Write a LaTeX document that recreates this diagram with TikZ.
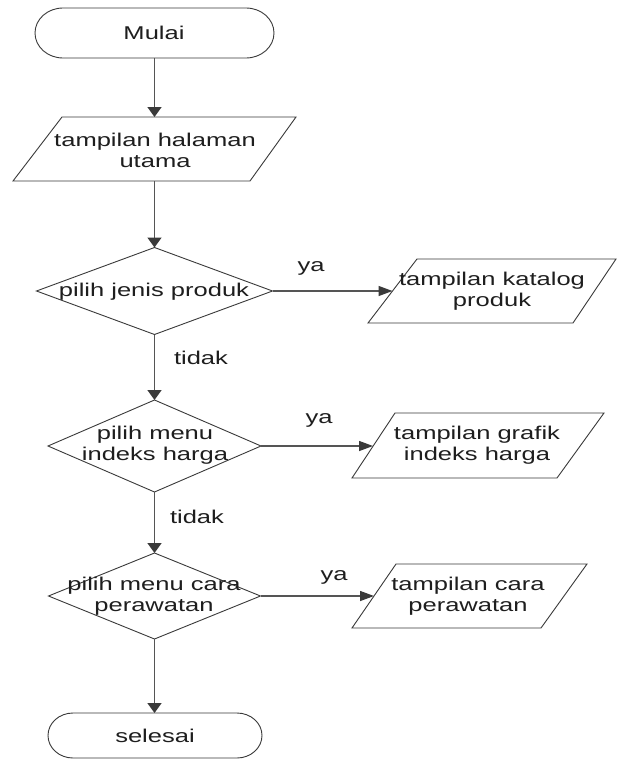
\documentclass[tikz,border=0pt]{standalone}
\usepackage{fontspec}
\setmainfont[FakeStretch=1.38]{Liberation Sans}
\usetikzlibrary{shapes.geometric,arrows.meta}
\definecolor{linec}{HTML}{555555}
\definecolor{edgec}{HTML}{3A3A3A}
\definecolor{txtc}{HTML}{1E1E1E}
\begin{document}
\begin{tikzpicture}[x=1pt,y=-1pt,
  txt/.style={font=\fontsize{18.5}{21}\selectfont, text=txtc, align=center, inner sep=0pt},
  shp/.style={draw=edgec, line width=0.9pt},
  decision/.style={shape=diamond, draw=edgec, line width=0.9pt, inner sep=0pt, outer sep=0pt},
  vflow/.style={draw=linec, line width=1.5pt, -{Triangle[length=10pt,width=14pt,color=edgec]}},
  hflow/.style={draw=linec, line width=1.3pt, -{Triangle[length=14pt,width=10pt,color=edgec]}},
  plainline/.style={draw=linec, line width=1.5pt}
]
\fill[white] (0,0) rectangle (617,760);
\useasboundingbox (0,0) rectangle (617,760);

% terminal Mulai
\draw[shp] (63,8) -- (246,8) arc[start angle=90,end angle=-90,x radius=28pt,y radius=25pt]
  -- (63,58) arc[start angle=270,end angle=90,x radius=28pt,y radius=25pt] -- cycle;
\node[txt] (mulai) at (154,33) {Mulai};
\coordinate (mulaiB) at (154.5,58);

% parallelogram 1
\draw[shp] (62,117) -- (296,117) -- (250,181) -- (13,181) -- cycle;
\node[txt] (p1) at (155,150) {tampilan halaman\\utama};
\coordinate (p1T) at (154.5,117);
\coordinate (p1B) at (154.5,181);

% decision 1
\node[decision, minimum width=236pt, minimum height=87pt] (d1) at (154.5,291) {};
\node[txt] (d1t) at (154,292) {pilih jenis produk};

% katalog
\draw[shp] (417,259) -- (616,259) -- (573,323) -- (368,323) -- cycle;
\node[txt] (kat) at (492,291) {tampilan katalog\\produk};
\coordinate (katIn) at (392.5,291);

% decision 2
\node[decision, minimum width=213pt, minimum height=92pt] (d2) at (154.5,446) {};
\node[txt] (d2t) at (155,445) {pilih menu\\indeks harga};

% grafik
\draw[shp] (395,413) -- (604,413) -- (557,478) -- (352,478) -- cycle;
\node[txt] (graf) at (477,445) {tampilan grafik\\indeks harga};
\coordinate (grafIn) at (373,446);

% decision 3
\node[decision, minimum width=212pt, minimum height=86pt] (d3) at (154.5,596) {};
\node[txt] (d3t) at (154,596) {pilih menu cara\\perawatan};

% cara
\draw[shp] (396,564) -- (587,564) -- (541,628) -- (352,628) -- cycle;
\node[txt] (cara) at (468,596) {tampilan cara\\perawatan};
\coordinate (caraIn) at (374,596);

% terminal selesai
\draw[shp] (73,713) -- (237,713) arc[start angle=90,end angle=-90,x radius=25pt,y radius=22.5pt]
  -- (73,758) arc[start angle=270,end angle=90,x radius=25pt,y radius=22.5pt] -- cycle;
\node[txt] (selesai) at (155,736) {selesai};
\coordinate (selesaiT) at (154.5,713);

% connectors
\draw[vflow] (mulaiB) -- (p1T);
\draw[vflow] (p1B) -- (d1.north);
\draw[hflow] (d1.east) -- (katIn);
\draw[vflow] (d1.south) -- (d2.north);
\draw[hflow] (d2.east) -- (grafIn);
\draw[vflow] (d2.south) -- (d3.north);
\draw[hflow] (d3.east) -- (caraIn);
\draw[vflow] (d3.south) -- (selesaiT);

% labels
\node[txt] (ya1) at (311,268) {ya};
\node[txt] (tidak1) at (201,358) {tidak};
\node[txt] (ya2) at (319,420) {ya};
\node[txt] (tidak2) at (197,517) {tidak};
\node[txt] (ya3) at (334,577) {ya};
\end{tikzpicture}
\end{document}
